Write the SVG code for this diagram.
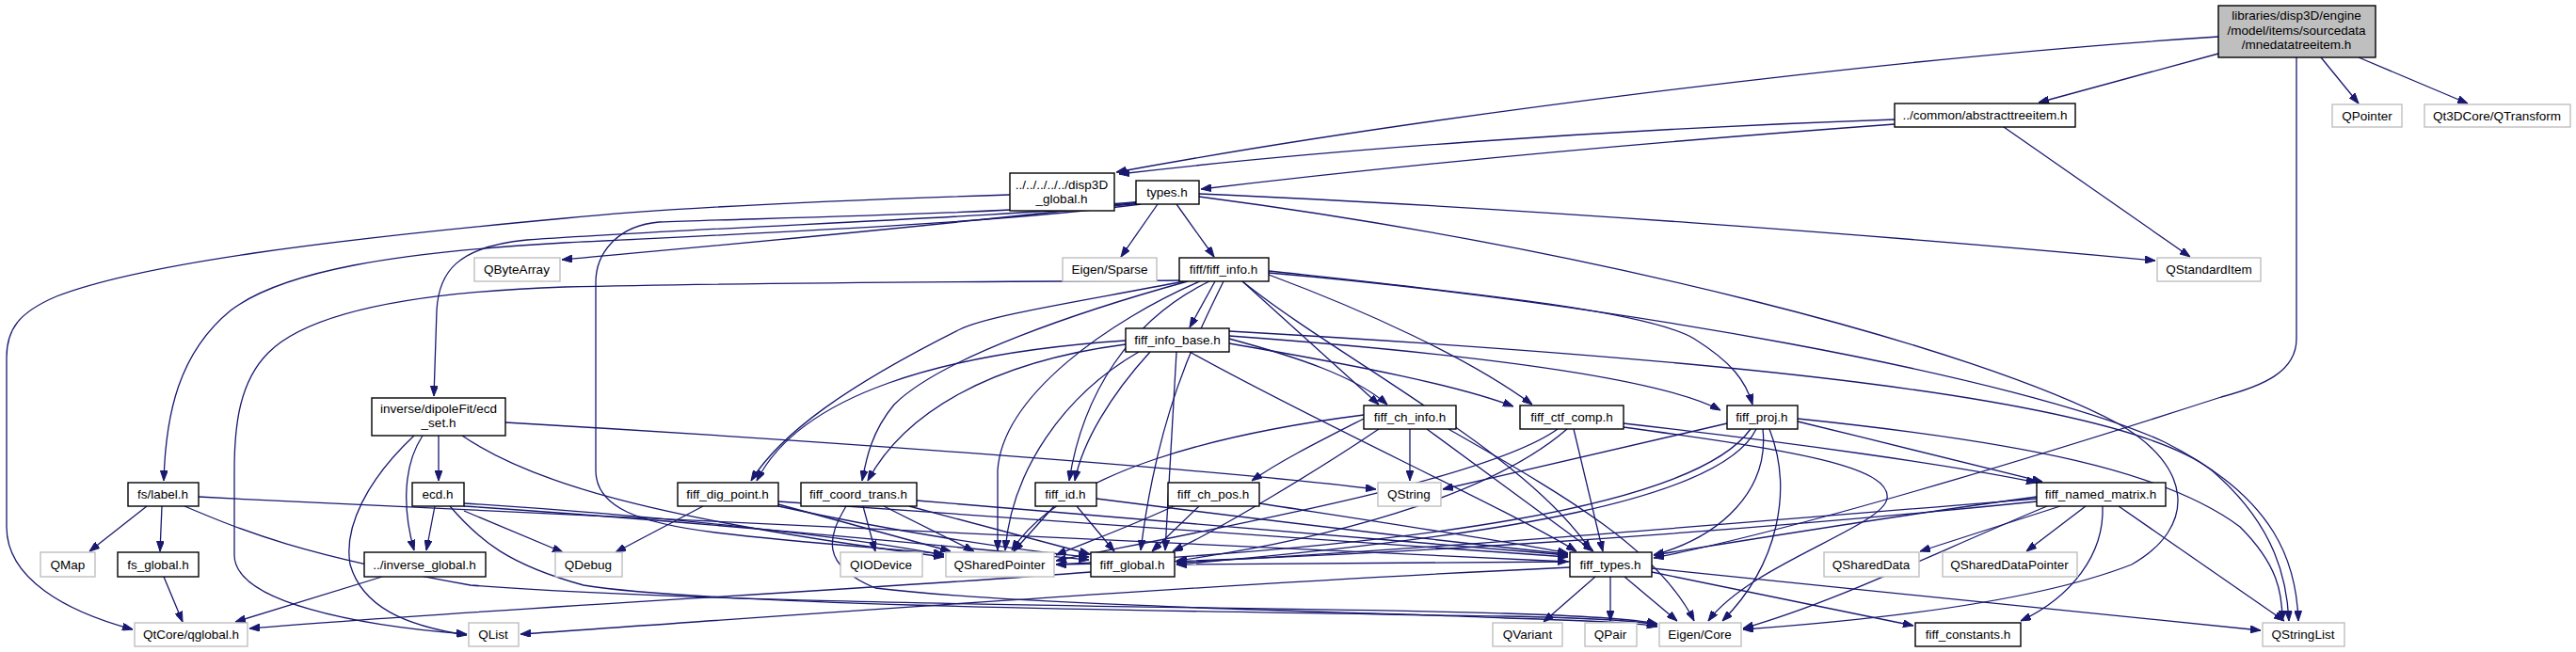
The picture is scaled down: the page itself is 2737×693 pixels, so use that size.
<svg xmlns="http://www.w3.org/2000/svg" width="2737" height="693" viewBox="0 0 2737 693">
<style>
.n rect{fill:#fff;stroke:#000;stroke-width:1.4}
.x rect{fill:#fff;stroke:#bfbfbf;stroke-width:1.4}
.r rect{fill:#bfbfbf;stroke:#000;stroke-width:1.4}
text{font-family:"Liberation Sans",Arial,sans-serif;font-size:13.5px;text-anchor:middle;fill:#000}
#edges path{fill:none;stroke:#191970;stroke-width:1.3;marker-end:url(#a)}
</style>
<defs>
<marker id="a" markerUnits="userSpaceOnUse" markerWidth="11" markerHeight="8" refX="11" refY="4" orient="auto"><path d="M0,0 L11,4 L0,8 z" fill="#191970" stroke="#191970" stroke-width="1"/></marker>
</defs>
<rect width="2737" height="693" fill="#fff"/>
<g id="edges">
<path d="M2357,39 C2000,62 1500,125 1186,183"/>
<path d="M2357,57 L2166,109"/>
<path d="M2466,61 L2506,110"/>
<path d="M2506,61 L2622,110"/>
<path d="M2440,61 L2440,360 C2440,395 2405,410 2360,422 C2150,490 1900,565 1757,593"/>
<path d="M2013,127 C1700,138 1400,160 1189,185"/>
<path d="M2013,132 C1700,155 1450,180 1276,201"/>
<path d="M2129,135 L2327,273"/>
<path d="M1073,207 C850,214 700,222 600,232 C350,255 150,280 60,315 C20,332 7,350 7,380 L7,560 C7,615 70,650 141,669"/>
<path d="M1210,215 C1000,240 750,262 597,276"/>
<path d="M1230,217 L1191,273"/>
<path d="M1250,217 L1290,273"/>
<path d="M1274,206 C1600,220 2000,250 2290,277"/>
<path d="M1212,217 C1050,238 800,248 600,258 C420,268 300,288 245,330 C190,375 176,440 174,511"/>
<path d="M1214,216 C1050,232 780,240 560,255 C485,262 466,290 464,330 L461,421"/>
<path d="M1216,214 C1050,228 800,232 700,236 C655,240 633,270 633,300 L633,500 C633,540 680,556 760,566 C860,578 950,583 1003,589"/>
<path d="M1274,209 C1700,265 2100,370 2250,450 C2330,495 2335,560 2265,600 C2150,645 1950,662 1852,669"/>
<path d="M1291,299 L1264,348"/>
<path d="M1255,298 C1000,300 800,300 600,305 C450,310 330,330 285,375 C255,405 249,450 249,500 L249,590 C249,640 380,665 496,674"/>
<path d="M1258,299 C1150,320 1050,335 1020,350 C900,410 830,460 798,511"/>
<path d="M1262,299 C1150,330 1000,380 950,430 C925,460 920,490 916,511"/>
<path d="M1285,299 C1200,340 1150,420 1136,511"/>
<path d="M1320,299 L1465,430"/>
<path d="M1348,292 C1450,330 1560,380 1628,430"/>
<path d="M1348,288 C1550,310 1750,330 1800,360 C1840,385 1855,405 1862,430"/>
<path d="M1275,299 C1180,340 1065,420 1060,500 L1060,585"/>
<path d="M1300,299 C1270,360 1230,440 1212,585"/>
<path d="M1320,299 C1420,380 1620,480 1690,585"/>
<path d="M1348,290 C1700,320 2150,400 2300,470 C2420,530 2440,600 2442,660"/>
<path d="M1196,362 C1000,375 850,420 804,511"/>
<path d="M1196,366 C1050,385 960,440 922,511"/>
<path d="M1222,374 C1180,420 1150,470 1142,511"/>
<path d="M1306,360 C1380,380 1440,400 1474,430"/>
<path d="M1306,365 C1450,390 1550,410 1608,432"/>
<path d="M1306,357 C1550,375 1760,400 1828,436"/>
<path d="M1210,374 C1130,420 1075,500 1068,585"/>
<path d="M1250,374 L1238,585"/>
<path d="M1264,374 C1400,450 1600,540 1675,586"/>
<path d="M1306,352 C1800,380 2250,420 2350,500 C2420,560 2430,620 2432,660"/>
<path d="M466,463 L466,511"/>
<path d="M449,463 C425,500 430,550 440,585"/>
<path d="M440,463 C390,510 365,560 372,600 C385,645 430,665 496,675"/>
<path d="M537,449 C900,470 1300,500 1462,520"/>
<path d="M491,463 C560,510 680,550 1003,592"/>
<path d="M462,538 L453,585"/>
<path d="M493,543 L598,587"/>
<path d="M493,535 C700,548 900,570 1003,590"/>
<path d="M493,538 C750,555 1000,580 1157,595"/>
<path d="M478,538 C510,575 540,600 620,622 C760,645 1300,650 1600,655 C1700,657 1740,660 1761,664"/>
<path d="M156,538 L95,586"/>
<path d="M172,538 L170,586"/>
<path d="M211,528 C800,560 1400,585 1666,597"/>
<path d="M196,538 C260,565 320,590 500,622 C800,645 1400,645 1600,652 C1700,655 1740,659 1761,663"/>
<path d="M174,613 L194,661"/>
<path d="M406,613 L250,661"/>
<path d="M747,538 L654,587"/>
<path d="M827,536 L1010,586"/>
<path d="M827,538 C950,565 1080,585 1157,592"/>
<path d="M827,533 C1200,560 1500,580 1666,592"/>
<path d="M917,538 L930,586"/>
<path d="M939,538 L1035,586"/>
<path d="M966,538 L1158,589"/>
<path d="M974,532 C1300,560 1550,580 1666,590"/>
<path d="M899,538 C880,570 870,600 930,625 C1100,645 1450,650 1600,657 C1700,660 1740,662 1761,666"/>
<path d="M1120,538 L1077,586"/>
<path d="M1144,538 L1184,586"/>
<path d="M1165,530 C1400,560 1580,580 1666,589"/>
<path d="M1247,538 C1200,560 1150,578 1122,590"/>
<path d="M1274,538 L1224,586"/>
<path d="M1338,535 C1500,560 1600,575 1666,588"/>
<path d="M1449,445 C1400,470 1360,490 1330,511"/>
<path d="M1498,456 L1498,511"/>
<path d="M1465,456 C1400,500 1300,560 1246,586"/>
<path d="M1449,441 C1300,460 1130,500 1075,585"/>
<path d="M1516,456 L1693,586"/>
<path d="M1539,456 C1650,520 1760,580 1800,660"/>
<path d="M1725,450 C1900,470 2080,495 2164,513"/>
<path d="M1655,456 C1580,510 1300,560 1122,596"/>
<path d="M1665,456 C1580,530 1400,575 1250,596"/>
<path d="M1672,456 L1703,586"/>
<path d="M1725,454 C1900,478 2010,495 2005,530 C2000,560 1860,600 1815,660"/>
<path d="M1910,448 C2000,470 2100,495 2170,512"/>
<path d="M1835,450 L1533,520"/>
<path d="M1860,456 C1800,540 1500,580 1122,600"/>
<path d="M1866,456 C1830,530 1600,570 1250,600"/>
<path d="M1873,456 C1880,520 1830,570 1757,590"/>
<path d="M1910,445 C2150,470 2300,500 2380,560 C2420,600 2425,630 2425,660"/>
<path d="M1880,456 C1905,520 1890,600 1830,660"/>
<path d="M2164,528 C2000,550 1850,575 1757,590"/>
<path d="M2164,530 C1800,560 1500,585 1250,598"/>
<path d="M2164,533 C1800,570 1400,595 1122,600"/>
<path d="M2189,538 L2040,586"/>
<path d="M2216,538 L2153,586"/>
<path d="M2234,538 C2236,590 2200,635 2147,660"/>
<path d="M2251,538 L2427,660"/>
<path d="M2175,538 C2050,590 1950,640 1852,668"/>
<path d="M1668,597 C1500,598 1350,598 1250,600"/>
<path d="M1695,613 L1640,661"/>
<path d="M1711,613 L1711,660"/>
<path d="M1726,613 L1782,660"/>
<path d="M1755,608 L2033,665"/>
<path d="M1755,604 C2000,630 2250,655 2402,670"/>
<path d="M1668,603 C1300,620 900,650 553,674"/>
<path d="M1159,608 C900,628 500,648 265,668"/>
</g>
<g id="root" class="r"><rect x="2357" y="6" width="167" height="55"/><text x="2440" y="21">libraries/disp3D/engine</text><text x="2440" y="37">/model/items/sourcedata</text><text x="2440" y="52">/mnedatatreeitem.h</text></g>
<g id="abstracttreeitem" class="n"><rect x="2013" y="110" width="192" height="25"/><text x="2109" y="127">../common/abstracttreeitem.h</text></g>
<g id="qpointer" class="x"><rect x="2478" y="111" width="74" height="24"/><text x="2515" y="128">QPointer</text></g>
<g id="qtransform" class="x"><rect x="2576" y="111" width="155" height="24"/><text x="2653" y="128">Qt3DCore/QTransform</text></g>
<g id="disp3d_global" class="n"><rect x="1073" y="184" width="111" height="40"/><text x="1128" y="201">../../../../../disp3D</text><text x="1128" y="216">_global.h</text></g>
<g id="types" class="n"><rect x="1207" y="192" width="67" height="25"/><text x="1240" y="209">types.h</text></g>
<g id="qbytearray" class="x"><rect x="504" y="274" width="91" height="25"/><text x="549" y="291">QByteArray</text></g>
<g id="eigen_sparse" class="x"><rect x="1129" y="274" width="100" height="25"/><text x="1179" y="291">Eigen/Sparse</text></g>
<g id="fiff_info" class="n"><rect x="1253" y="274" width="95" height="25"/><text x="1300" y="291">fiff/fiff_info.h</text></g>
<g id="qstandarditem" class="x"><rect x="2292" y="274" width="110" height="25"/><text x="2347" y="291">QStandardItem</text></g>
<g id="fiff_info_base" class="n"><rect x="1196" y="349" width="110" height="25"/><text x="1251" y="366">fiff_info_base.h</text></g>
<g id="ecd_set" class="n"><rect x="395" y="423" width="142" height="40"/><text x="466" y="439">inverse/dipoleFit/ecd</text><text x="466" y="454">_set.h</text></g>
<g id="fiff_ch_info" class="n"><rect x="1449" y="431" width="98" height="25"/><text x="1498" y="448">fiff_ch_info.h</text></g>
<g id="fiff_ctf_comp" class="n"><rect x="1615" y="431" width="110" height="25"/><text x="1670" y="448">fiff_ctf_comp.h</text></g>
<g id="fiff_proj" class="n"><rect x="1835" y="431" width="75" height="25"/><text x="1872" y="448">fiff_proj.h</text></g>
<g id="fs_label" class="n"><rect x="136" y="513" width="75" height="25"/><text x="173" y="530">fs/label.h</text></g>
<g id="ecd" class="n"><rect x="438" y="513" width="55" height="25"/><text x="465" y="530">ecd.h</text></g>
<g id="fiff_dig_point" class="n"><rect x="720" y="513" width="107" height="25"/><text x="773" y="530">fiff_dig_point.h</text></g>
<g id="fiff_coord_trans" class="n"><rect x="851" y="513" width="123" height="25"/><text x="912" y="530">fiff_coord_trans.h</text></g>
<g id="fiff_id" class="n"><rect x="1100" y="513" width="65" height="25"/><text x="1132" y="530">fiff_id.h</text></g>
<g id="fiff_ch_pos" class="n"><rect x="1241" y="513" width="97" height="25"/><text x="1289" y="530">fiff_ch_pos.h</text></g>
<g id="qstring" class="x"><rect x="1464" y="513" width="67" height="25"/><text x="1497" y="530">QString</text></g>
<g id="fiff_named_matrix" class="n"><rect x="2164" y="513" width="137" height="25"/><text x="2232" y="530">fiff_named_matrix.h</text></g>
<g id="qmap" class="x"><rect x="43" y="587" width="58" height="26"/><text x="72" y="605">QMap</text></g>
<g id="fs_global" class="n"><rect x="125" y="587" width="86" height="26"/><text x="168" y="605">fs_global.h</text></g>
<g id="inverse_global" class="n"><rect x="387" y="587" width="129" height="26"/><text x="451" y="605">../inverse_global.h</text></g>
<g id="qdebug" class="x"><rect x="590" y="587" width="71" height="26"/><text x="625" y="605">QDebug</text></g>
<g id="qiodevice" class="x"><rect x="893" y="587" width="87" height="26"/><text x="936" y="605">QIODevice</text></g>
<g id="qsharedpointer" class="x"><rect x="1005" y="587" width="115" height="26"/><text x="1062" y="605">QSharedPointer</text></g>
<g id="fiff_global" class="n"><rect x="1159" y="587" width="89" height="26"/><text x="1203" y="605">fiff_global.h</text></g>
<g id="fiff_types" class="n"><rect x="1668" y="587" width="87" height="26"/><text x="1711" y="605">fiff_types.h</text></g>
<g id="qshareddata" class="x"><rect x="1938" y="587" width="101" height="26"/><text x="1988" y="605">QSharedData</text></g>
<g id="qshareddatapointer" class="x"><rect x="2064" y="587" width="143" height="26"/><text x="2135" y="605">QSharedDataPointer</text></g>
<g id="qglobal" class="x"><rect x="143" y="662" width="120" height="25"/><text x="203" y="679">QtCore/qglobal.h</text></g>
<g id="qlist" class="x"><rect x="498" y="662" width="53" height="25"/><text x="524" y="679">QList</text></g>
<g id="qvariant" class="x"><rect x="1586" y="662" width="74" height="25"/><text x="1623" y="679">QVariant</text></g>
<g id="qpair" class="x"><rect x="1684" y="662" width="55" height="25"/><text x="1711" y="679">QPair</text></g>
<g id="eigen_core" class="x"><rect x="1763" y="662" width="87" height="25"/><text x="1806" y="679">Eigen/Core</text></g>
<g id="fiff_constants" class="n"><rect x="2035" y="662" width="112" height="25"/><text x="2091" y="679">fiff_constants.h</text></g>
<g id="qstringlist" class="x"><rect x="2404" y="662" width="87" height="25"/><text x="2447" y="679">QStringList</text></g>
</svg>
